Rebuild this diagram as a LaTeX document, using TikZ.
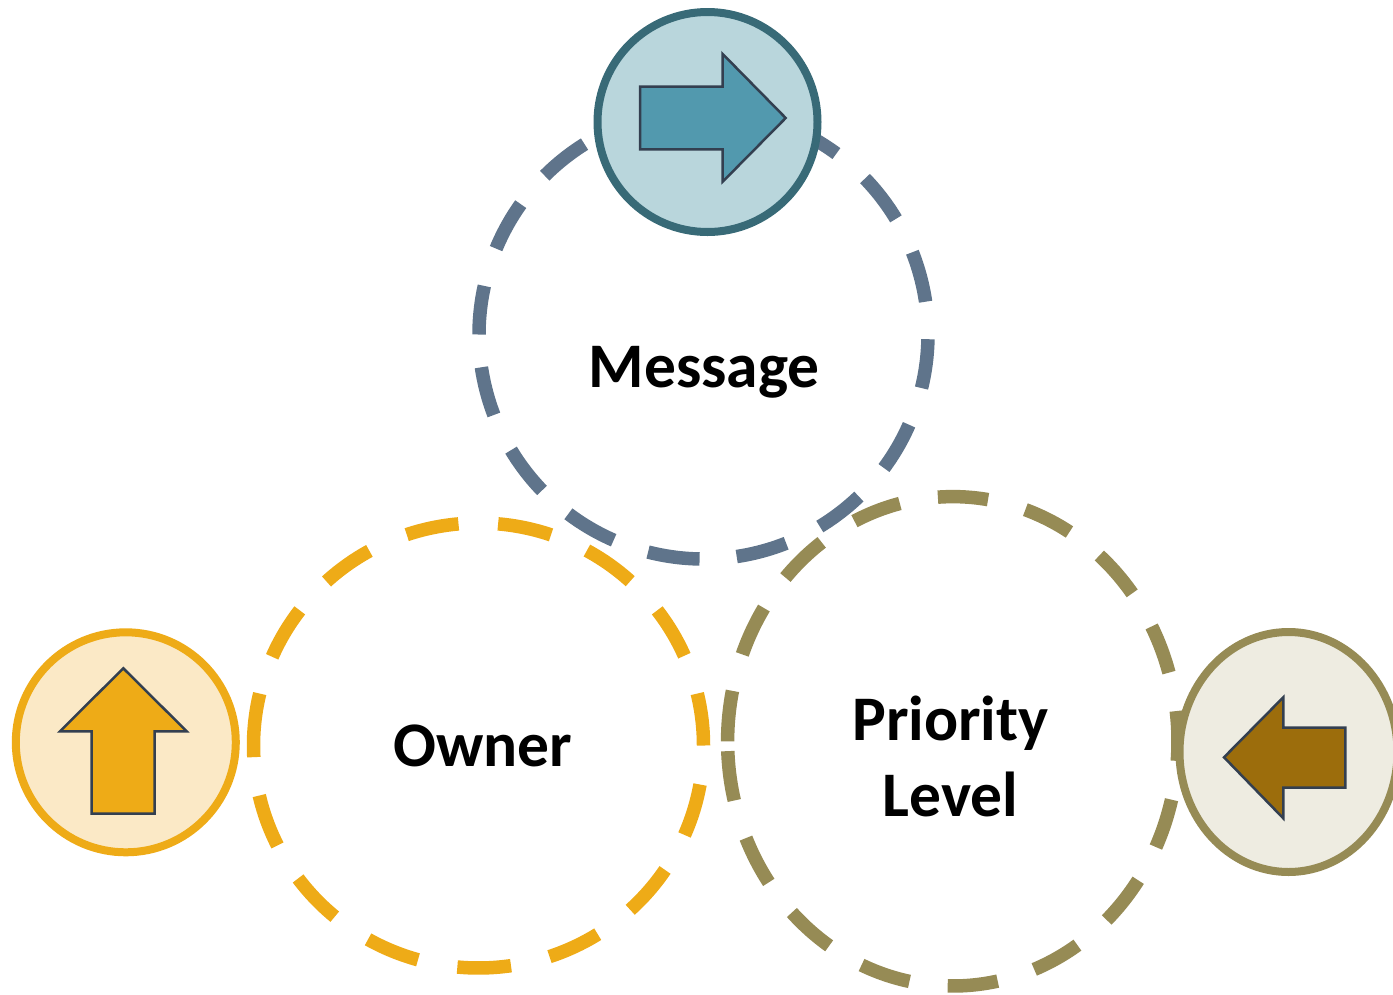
\documentclass[tikz,border=0pt]{standalone}
\usepackage{fontspec}
\setmainfont{Carlito}
\definecolor{msgdash}{HTML}{5F748B}
\definecolor{gold}{HTML}{EEAB17}
\definecolor{olive}{HTML}{968B55}
\definecolor{msgfill}{HTML}{B9D6DC}
\definecolor{msgline}{HTML}{386A77}
\definecolor{msgarrow}{HTML}{5299AE}
\definecolor{goldfill}{HTML}{FBE9C6}
\definecolor{olivefill}{HTML}{EEECE1}
\definecolor{brownarrow}{HTML}{9C6D0C}
\definecolor{arrowline}{HTML}{333F50}
\newcommand{\dasharcs}[6]{%
  \foreach \a/\b in {#6}
    \draw[ringdash,#1] ({#2+#4*cos(\a)},{#3+#5*sin(\a)}) arc[start angle=\a,end angle=\b,x radius=#4,y radius=#5];}
\tikzset{
  ringdash/.style={line width=13.5pt,line cap=butt},
  iconring/.style={line width=8pt},
  iconarrow/.style={line width=2.5pt,draw=arrowline,line join=miter},
  label/.style={font=\bfseries\fontsize{63.5}{76}\selectfont,inner sep=0pt,text=black,align=center}
}
\begin{document}
\begin{tikzpicture}[x=1pt,y=-1pt]
\useasboundingbox (0,0) rectangle (1393,994);
\clip (0,0) rectangle (1393,994);
% Priority Level ring
\dasharcs{draw=olive}{952.8}{741.3}{225.2}{244.7}{-7.1/4.6,13.8/25.6,34.6/46.9,56.4/68.8,78.5/91.3,101.1/113.9,123.3/135.6,144.8/156.7,166/177.7,180/191.9,200.8/213,222/234.4,244.1/256.4,266.2/279,288.8/301.2,310.6/322.8,332/343.7}
% Owner ring
\dasharcs{draw=gold}{478.5}{745.5}{225}{222.5}{10.1/23.7,34/47.6,58/71.6,81.7/95.4,105.6/119.4,129.7/143.3,153.3/167,177/193.5,203.5/217.4,227.5/241,251.4/264.9,275/288.8,298.8/312.4,322.6/336.2,346.5/360}
% Message ring
\dasharcs{draw=msgdash}{703.5}{334.5}{224.5}{224.5}{1.2/13.8,23.7/36.5,46.2/58.8,68.4/81.5,91/104.3,113.6/127,136/149,159/171.6,180/192.5,202.5/215.5,225/238,-66/-53.7,-44/-31,-21.5/-8.4}
% Icons
\draw[iconring,draw=msgline,fill=msgfill] (707.5,122) circle[x radius=110,y radius=110];
\draw[iconarrow,fill=msgarrow] (640,86.7) -- (722.7,86.7) -- (722.7,54) -- (785.7,118) -- (722.7,181.7) -- (722.7,149.3) -- (640,149.3) -- cycle;
\draw[iconring,draw=gold,fill=goldfill] (125.8,742.3) circle[x radius=110,y radius=110];
\draw[iconarrow,fill=gold] (123.3,668.3) -- (186.7,731.3) -- (154.7,731.3) -- (154.7,813.7) -- (91.7,813.7) -- (91.7,731.3) -- (60,731.3) -- cycle;
\draw[iconring,draw=olive,fill=olivefill] (1288.5,752) circle[x radius=109,y radius=120];
\draw[iconarrow,fill=brownarrow] (1224,757.3) -- (1283.3,697.3) -- (1283.3,727.7) -- (1345.3,727.7) -- (1345.3,787.7) -- (1283.3,787.7) -- (1283.3,818.3) -- cycle;
% Labels
\node[label,anchor=base] (message) at (704,387.5) {Message};
\node[label,anchor=base] (owner) at (483,766.5) {Owner};
\node[label,anchor=base] (priority) at (950.5,816) {Priority\\Level};
\end{tikzpicture}
\end{document}
